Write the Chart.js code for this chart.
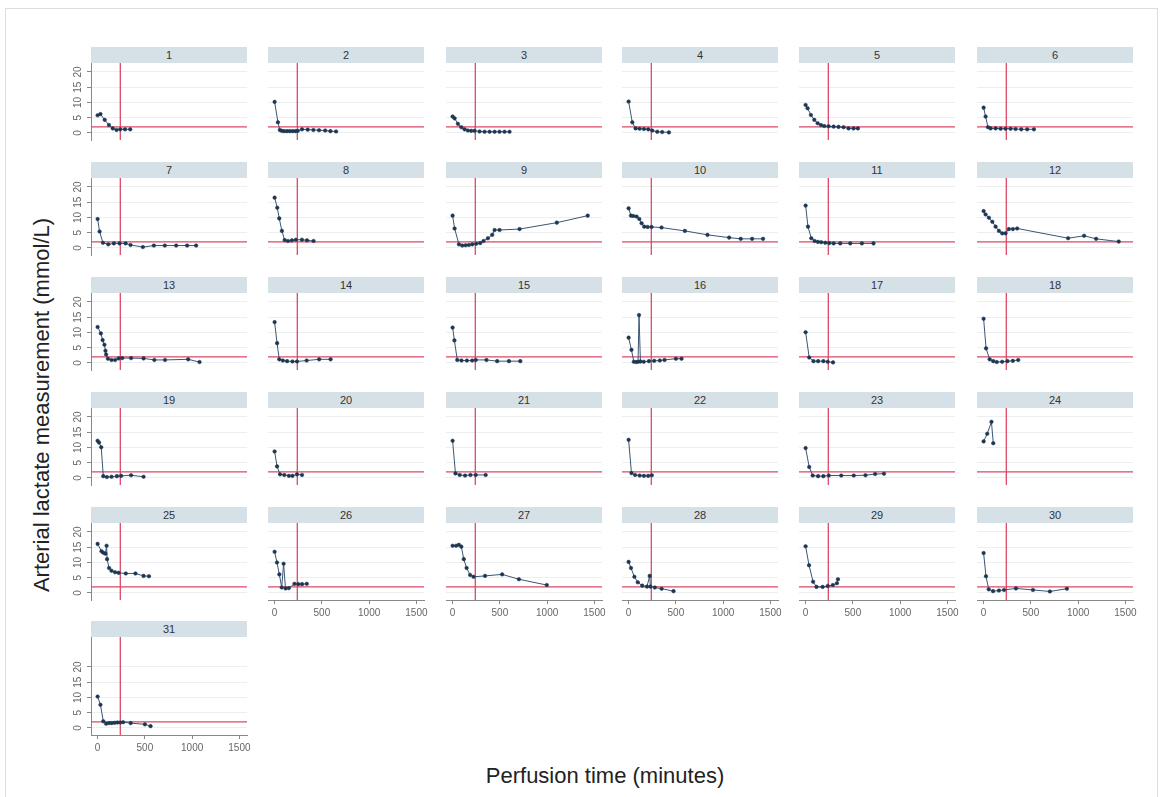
<!DOCTYPE html>
<html>
<head>
<meta charset="utf-8">
<script src="https://cdn.jsdelivr.net/npm/chart.js@4.4.1/dist/chart.umd.min.js"></script>
<style>
  body { margin: 0; background: #fff; width: 1166px; height: 797px; position: relative; overflow: hidden;
         font-family: "Liberation Sans", Arial, sans-serif; }
  #frame { position: absolute; left: 5px; top: 8px; width: 1151px; height: 800px; border: 1px solid #dddddd; }
  .strip { position: absolute; height: 16px; background: #d6e0e7; color: #333; font-size: 11px;
           line-height: 16px; text-align: center; }
  canvas { position: absolute; }
  #ytitle { position: absolute; left: 42px; top: 405px; transform: translate(-50%, -50%) rotate(-90deg);
            font-size: 22px; color: #222; white-space: nowrap; }
  #xtitle { position: absolute; left: 605px; top: 776px; transform: translate(-50%, -50%);
            font-size: 22px; color: #222; white-space: nowrap; }
</style>
</head>
<body>
<div id="frame"></div>
<div id="ytitle">Arterial lactate measurement (mmol/L)</div>
<div id="xtitle">Perfusion time (minutes)</div>
<script>
// --- 1. Data ---
const PANEL_IDS = ["1","2","3","4","5","6","7","8","9","10","11","12","13","14","15","16",
                   "17","18","19","20","21","22","23","24","25","26","27","28","29","30","31"];
const X_TICKS = [0, 500, 1000, 1500];
const Y_TICKS = [0, 5, 10, 15, 20];
const REF_TIME = 240;     // vertical reference line (minutes)
const REF_LACTATE = 2;    // horizontal reference line (mmol/L)

// perfusion time (minutes), one list per patient
const PERFUSION_MIN = [
  [0,30,75,120,160,200,240,290,345],
  [0,35,55,75,100,130,160,190,220,245,290,350,410,470,535,590,650],
  [0,21,56,92,127,162,197,232,285,338,391,444,496,549,602],
  [0,39,74,116,162,208,250,303,355,426],
  [0,21,56,92,127,162,197,243,296,348,401,454,507,553],
  [0,21,46,74,127,180,232,285,338,398,461,532],
  [0,21,56,113,172,232,296,348,479,595,711,831,947,1042],
  [0,28,49,77,106,141,183,225,289,342,412],
  [0,21,67,102,137,172,208,250,292,327,373,419,444,496,708,1102,1429],
  [0,25,49,84,113,137,165,201,243,348,595,834,1063,1186,1306,1422],
  [0,25,60,95,130,165,208,250,296,366,472,595,718],
  [0,21,56,92,127,162,197,232,267,310,355,894,1063,1190,1429],
  [0,34,53,72,83,90,109,147,185,222,260,354,486,600,713,958,1078],
  [0,26,49,87,132,189,237,339,471,592],
  [0,19,49,94,151,207,245,358,471,596,716],
  [0,30,55,80,100,110,125,160,215,270,330,380,500,560],
  [0,38,83,132,188,234,290],
  [0,26,64,102,139,196,252,309,366],
  [0,15,38,60,98,147,204,249,354,486],
  [0,26,57,102,151,189,237,290],
  [0,30,75,132,188,245,350],
  [0,30,68,117,162,207,245],
  [0,38,75,132,188,245,377,509,633,735,829],
  [0,38,83,102],
  [0,41,60,83,95,100,121,147,185,222,298,400,486,543],
  [0,25,50,75,95,115,150,210,250,290,340],
  [0,37,66,92,118,148,185,221,343,524,701,996],
  [0,25,61,97,144,194,223,230,277,349,475],
  [0,36,79,115,180,234,288,331,342],
  [0,25,54,100,162,216,342,522,701,881],
  [0,30,60,90,120,150,180,210,240,270,350,500,560]
];

// arterial lactate (mmol/L), same order
const LACTATE_MMOL = [
  [5.8,6.2,4.3,2.6,1.5,1.0,1.2,1.2,1.2],
  [10.2,3.5,1.0,0.7,0.6,0.6,0.6,0.6,0.6,0.7,1.2,1.1,1.0,0.9,0.8,0.6,0.5],
  [5.4,4.8,3.0,1.9,1.2,0.8,0.7,0.7,0.5,0.4,0.4,0.4,0.4,0.4,0.4],
  [10.3,3.5,1.5,1.4,1.3,1.2,0.8,0.4,0.3,0.2],
  [9.2,8.1,5.9,4.3,3.2,2.6,2.3,2.2,2.1,2.0,1.9,1.5,1.5,1.5],
  [8.3,5.4,1.9,1.5,1.5,1.4,1.4,1.4,1.3,1.2,1.2,1.2],
  [9.5,5.4,1.7,1.2,1.5,1.5,1.5,1.0,0.3,0.8,0.8,0.8,0.8,0.8],
  [16.5,13.2,9.7,5.6,2.6,2.3,2.5,2.7,2.7,2.5,2.3],
  [10.6,6.4,1.2,0.8,0.9,1.0,1.2,1.4,1.6,2.3,3.2,4.3,5.9,5.9,6.2,8.3,10.6],
  [13.0,10.6,10.5,10.3,9.5,8.1,7.0,6.9,6.9,6.7,5.6,4.3,3.4,3.0,3.0,3.0],
  [13.9,7.0,3.2,2.3,2.0,1.9,1.7,1.6,1.5,1.5,1.5,1.5,1.5],
  [12.1,11.0,9.9,8.6,7.0,5.6,4.8,4.8,6.2,6.2,6.4,3.2,4.0,3.0,2.1],
  [11.8,9.7,7.5,6.0,4.0,2.8,1.4,1.0,1.0,1.5,1.6,1.6,1.5,1.0,1.0,1.2,0.3],
  [13.4,6.5,1.2,0.8,0.6,0.5,0.5,0.8,1.2,1.2],
  [11.6,7.4,1.0,0.8,0.8,0.8,1.0,1.0,0.6,0.6,0.6],
  [8.3,4.3,0.4,0.3,0.4,15.7,0.5,0.4,0.6,0.7,0.8,1.0,1.4,1.4],
  [10.1,1.8,0.6,0.6,0.6,0.4,0.2],
  [14.5,4.8,1.2,0.6,0.3,0.4,0.6,0.7,1.0],
  [12.2,11.6,10.1,0.6,0.3,0.4,0.6,0.7,0.9,0.4],
  [8.7,3.8,1.2,1.0,0.7,0.7,1.2,1.0],
  [12.2,1.5,1.0,0.8,1.0,1.0,1.0],
  [12.5,1.6,1.0,0.8,0.7,0.7,0.9],
  [9.8,3.6,0.8,0.6,0.6,0.8,0.8,0.8,0.9,1.3,1.4],
  [12.0,14.5,18.4,11.4],
  [16.1,13.7,13.2,12.9,15.5,11.1,8.2,7.3,6.8,6.6,6.4,6.4,5.6,5.5],
  [13.5,10.0,6.1,1.8,9.6,1.5,1.6,3.0,2.9,2.9,3.0],
  [15.5,15.5,15.8,15.2,11.1,8.2,5.9,5.3,5.6,6.1,4.5,2.6],
  [10.2,8.2,5.3,3.5,2.4,2.1,5.6,2.1,1.8,1.4,0.6],
  [15.3,9.1,3.7,2.0,2.0,2.3,2.6,3.2,4.5],
  [13.1,5.5,1.2,0.6,0.8,1.0,1.5,1.0,0.5,1.4],
  [10.3,7.6,2.2,1.4,1.6,1.6,1.7,1.8,1.8,1.9,1.6,1.2,0.6]
];

// --- 2. Layout of the trellis ---
const COL_LEFT = [91, 268, 446, 622, 799, 977];
const ROW_TOP = [47, 162, 277, 392, 507, 621];
const ROW_PLOT_H = [77, 77, 77, 77, 77, 98];   // last row's plot is taller in the original
const STRIP_H = 16, PLOT_W = 156;
const PX_PER_UNIT = 3.05;
const M = { l: 34, r: 14, t: 6, b: 30 };   // canvas margins around plot area
const X_MIN = -70, X_MAX = 1580, Y_MIN = -2.3;

const NAVY = "#1d3652";
const LINE = "#3a5674";
const RED = "#dc4a66";

// red reference lines at 240 min and 2 mmol/L
const refLines = {
  id: "refLines",
  beforeDatasetsDraw(chart) {
    const { ctx, chartArea: a, scales: { x, y } } = chart;
    const px = x.getPixelForValue(REF_TIME);
    const py = y.getPixelForValue(REF_LACTATE);
    ctx.save();
    ctx.strokeStyle = RED;
    ctx.lineWidth = 1.3;
    ctx.beginPath();
    ctx.moveTo(px, a.top); ctx.lineTo(px, a.bottom);
    ctx.moveTo(a.left, py); ctx.lineTo(a.right, py);
    ctx.stroke();
    ctx.restore();
  }
};

// rotated y tick labels (first column only)
const yLabels = {
  id: "yLabels",
  afterDraw(chart) {
    const { ctx, chartArea: a, scales: { y } } = chart;
    ctx.save();
    ctx.fillStyle = "#666";
    ctx.font = "10px 'Liberation Sans', Arial, sans-serif";
    ctx.textAlign = "center";
    ctx.textBaseline = "middle";
    Y_TICKS.forEach(v => {
      ctx.save();
      ctx.translate(a.left - 13, y.getPixelForValue(v));
      ctx.rotate(-Math.PI / 2);
      ctx.fillText(String(v), 0, 0);
      ctx.restore();
    });
    ctx.restore();
  }
};

// --- 3. One small chart per patient ---
PANEL_IDS.forEach((id, i) => {
  const col = i % 6, row = Math.floor(i / 6);
  const first = col === 0;
  const bottom = i >= 25;
  const left = COL_LEFT[col], top = ROW_TOP[row];
  const plotH = ROW_PLOT_H[row];
  const yMax = Y_MIN + plotH / PX_PER_UNIT;

  const strip = document.createElement("div");
  strip.className = "strip";
  strip.style.left = left + "px";
  strip.style.top = top + "px";
  strip.style.width = PLOT_W + "px";
  strip.textContent = id;
  document.body.appendChild(strip);

  const cv = document.createElement("canvas");
  const w = PLOT_W + M.l + M.r, h = plotH + M.t + M.b;
  cv.width = w; cv.height = h;
  cv.style.width = w + "px"; cv.style.height = h + "px";
  cv.style.left = (left - M.l) + "px";
  cv.style.top = (top + STRIP_H - M.t) + "px";
  document.body.appendChild(cv);

  const pts = PERFUSION_MIN[i].map((t, k) => ({ x: t, y: LACTATE_MMOL[i][k] }));

  new Chart(cv, {
    type: "scatter",
    data: {
      datasets: [{
        data: pts,
        showLine: true,
        borderColor: LINE,
        borderWidth: 1,
        backgroundColor: NAVY,
        pointBorderColor: NAVY,
        pointRadius: 1.8,
        pointBorderWidth: 0.5,
        tension: 0
      }]
    },
    options: {
      responsive: false,
      animation: false,
      events: [],
      devicePixelRatio: 1,
      layout: { padding: { top: M.t, right: M.r, left: 0, bottom: 0 } },
      plugins: { legend: { display: false }, tooltip: { enabled: false } },
      scales: {
        x: {
          type: "linear",
          min: X_MIN, max: X_MAX,
          afterBuildTicks: s => { s.ticks = X_TICKS.map(v => ({ value: v })); },
          afterFit: s => { s.height = M.b; s.paddingLeft = 0; s.paddingRight = 0; },
          grid: { color: "transparent", tickColor: bottom ? "#888" : "transparent", tickLength: 4, drawTicks: true },
          border: { display: bottom, color: "#888", width: 1 },
          ticks: {
            display: bottom, color: "#666", padding: 3, maxRotation: 0, autoSkip: false,
            callback: v => String(v),
            font: { size: 10, family: "'Liberation Sans', Arial, sans-serif" }
          }
        },
        y: {
          min: Y_MIN, max: yMax,
          afterBuildTicks: s => { s.ticks = Y_TICKS.map(v => ({ value: v })); },
          afterFit: s => { s.width = M.l; s.paddingTop = 0; s.paddingBottom = 0; },
          grid: { color: "#eceef0", tickColor: first ? "#888" : "transparent", tickLength: 4, drawTicks: true },
          border: { display: first, color: "#888", width: 1 },
          ticks: { display: false }
        }
      }
    },
    plugins: first ? [refLines, yLabels] : [refLines]
  });
});
</script>
</body>
</html>
